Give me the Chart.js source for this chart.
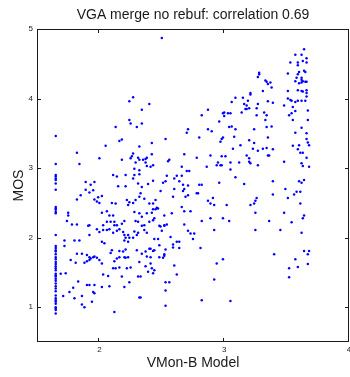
<!DOCTYPE html>
<html>
<head>
<meta charset="utf-8">
<script src="https://cdn.jsdelivr.net/npm/chart.js@4.4.1/dist/chart.umd.min.js"></script>
<style>
  html, body { margin: 0; padding: 0; background: #fff; }
  #c { display: block; }
</style>
</head>
<body>
<canvas id="c" width="350" height="377"></canvas>
<script>
/* ---------------------------------------------
   Data: VMon-B model score (x) vs MOS (y)
--------------------------------------------- */
const TITLE   = 'VGA merge no rebuf: correlation 0.69';
const X_LABEL = 'VMon-B Model';
const Y_LABEL = 'MOS';

const xTicks = [2, 3, 4];
const yTicks = [1, 2, 3, 4, 5];

// points with MOS >= 3
const upperPts = [
  [2.50,4.87],[3.64,4.71],[3.57,4.63],[3.62,4.63],[3.53,4.52],[3.59,4.52],[3.63,4.54],[3.66,4.58],[3.66,4.52],[3.59,4.48],
  [3.64,4.40],[3.65,4.38],[3.60,4.38],[3.51,4.36],[3.59,4.35],[3.28,4.37],[3.28,4.35],[3.27,4.31],[3.58,4.30],[3.62,4.30],
  [3.62,4.27],[3.63,4.25],[3.65,4.24],[3.66,4.24],[3.62,4.23],[3.57,4.25],[3.60,4.22],[3.33,4.26],[3.34,4.24],[3.35,4.21],
  [3.37,4.23],[3.38,4.16],[3.31,4.11],[3.51,4.11],[3.59,4.12],[3.62,4.11],[3.63,4.10],[3.66,4.12],[3.66,4.08],[3.21,4.08],
  [3.21,4.06],[3.09,4.01],[3.15,4.01],[3.51,4.00],[3.53,3.98],[3.54,3.97],[3.57,3.95],[3.59,3.97],[3.62,3.97],[3.65,3.97],
  [3.66,4.03],[3.19,3.97],[3.06,3.95],[3.35,3.96],[3.39,3.94],[3.16,3.92],[3.18,3.90],[3.17,3.85],[3.18,3.85],[3.20,3.86],
  [3.27,3.92],[3.26,3.86],[3.48,3.90],[3.55,3.88],[3.57,3.82],[3.54,3.79],[3.67,3.83],[2.87,3.84],[3.00,3.80],[3.03,3.79],
  [3.05,3.79],[2.99,3.79],[3.14,3.80],[3.32,3.80],[2.82,3.76],[3.00,3.75],[3.26,3.76],[3.34,3.76],[3.52,3.76],[3.55,3.69],
  [3.67,3.69],[3.33,3.69],[2.96,3.67],[3.04,3.59],[3.06,3.60],[3.34,3.59],[3.38,3.60],[3.62,3.58],[2.71,3.56],[2.70,3.51],
  [2.87,3.56],[2.90,3.53],[3.09,3.56],[3.24,3.56],[3.57,3.51],[3.66,3.50],[2.80,3.44],[2.53,3.42],[2.99,3.44],[2.98,3.42],
  [2.97,3.38],[3.08,3.45],[3.20,3.40],[3.24,3.36],[3.35,3.44],[3.66,3.42],[3.67,3.37],[3.68,3.33],[2.68,3.20],[2.78,3.15],
  [2.89,3.18],[2.98,3.17],[3.01,3.17],[3.07,3.28],[3.13,3.33],[3.18,3.18],[3.20,3.14],[3.23,3.28],[3.27,3.25],[3.31,3.28],
  [3.34,3.29],[3.39,3.27],[3.35,3.18],[3.36,3.18],[3.55,3.32],[3.59,3.27],[3.60,3.33],[3.63,3.22],[3.61,3.22],[3.66,3.15],
  [2.56,3.12],[2.55,3.10],[2.66,3.02],[2.43,3.04],[2.41,3.02],[2.86,3.02],[2.95,3.08],[2.97,3.04],[2.94,3.04],[2.98,3.04],
  [3.05,3.08],[3.12,3.08],[3.20,3.09],[3.21,3.07],[3.27,3.04],[3.48,3.09],[3.62,3.07],[3.63,3.03],[3.68,3.02],
  [2.27,4.02],[2.24,3.96],[2.40,3.92],[2.34,3.84],[2.24,3.69],[2.25,3.64],[2.34,3.64],[2.13,3.59],[2.30,3.59],[1.65,3.46],
  [2.18,3.41],[2.16,3.39],[2.42,3.36],[2.05,3.32],[2.32,3.31],[1.82,3.22],[2.00,3.14],[2.18,3.12],[2.27,3.21],[2.26,3.17],
  [2.25,3.14],[2.31,3.15],[2.32,3.12],[2.35,3.12],[2.37,3.13],[2.38,3.15],[2.42,3.20],[2.29,3.08],[2.37,3.08],[2.38,3.03],
  [1.65,3.06],[1.84,3.06],[2.28,2.99]
];

// points with MOS < 3, model score above ~2.4
const rightPts = [
  [2.70,2.96],[2.72,2.96],[3.05,2.98],[2.54,2.89],[2.62,2.89],[2.66,2.89],[2.60,2.85],[3.09,2.87],[2.51,2.79],[2.53,2.81],
  [2.64,2.81],[3.39,2.81],[3.60,2.81],[3.62,2.79],[3.64,2.83],[2.96,2.79],[3.16,2.77],[2.67,2.76],[2.71,2.75],[2.80,2.76],
  [2.82,2.76],[2.60,2.70],[2.68,2.70],[2.67,2.67],[2.49,2.67],[3.49,2.70],[3.58,2.66],[3.61,2.66],[3.56,2.62],[2.78,2.64],
  [2.79,2.64],[3.39,2.62],[2.71,2.61],[2.59,2.59],[2.69,2.59],[2.91,2.57],[3.26,2.57],[3.51,2.57],[2.45,2.54],[2.87,2.53],
  [3.25,2.53],[2.43,2.49],[2.46,2.43],[2.43,2.41],[2.45,2.41],[2.47,2.42],[2.89,2.49],[2.92,2.47],[3.02,2.47],[3.21,2.47],
  [3.24,2.49],[2.66,2.44],[3.61,2.49],[2.68,2.38],[2.73,2.38],[3.25,2.36],[3.48,2.36],[2.58,2.35],[2.52,2.32],[3.64,2.32],
  [3.63,2.28],[2.44,2.28],[2.89,2.28],[2.99,2.28],[2.82,2.24],[3.04,2.24],[3.36,2.24],[3.54,2.22],[2.68,2.19],[2.54,2.19],
  [2.52,2.18],[2.48,2.17],[2.49,2.16],[2.52,2.17],[2.50,2.10],[2.71,2.10],[2.73,2.06],[2.76,2.06],[2.75,1.98],[2.92,2.11],
  [3.25,2.11],[3.45,2.11],[3.62,2.07],[2.57,2.01],[2.44,1.98],[2.47,1.98],[2.62,1.94],[2.64,1.94],[2.59,1.90],[2.59,1.86],
  [2.64,1.85],[2.48,1.89],[2.53,1.83],[2.41,1.84],[2.44,1.82],[2.43,1.81],[2.81,1.85],[3.64,1.81],[3.68,1.81],[3.67,1.76],
  [2.52,1.76],[2.52,1.74],[3.40,1.76],[2.48,1.72],[2.51,1.71],[2.41,1.72],[2.99,1.69],[3.57,1.69],[2.94,1.63],[3.67,1.62],
  [2.60,1.60],[2.41,1.63],[3.59,1.58],[3.52,1.56],[2.44,1.53],[2.43,1.49],[2.62,1.47],[3.52,1.43],[2.92,1.40],[2.53,1.36],
  [2.56,1.36],[2.53,1.24],[2.82,1.10],[3.05,1.09],[2.53,1.02]
];

// points with MOS < 3, model score below ~2.4 (besides the stack)
const leftPts = [
  [2.11,2.90],[2.14,2.88],[2.21,2.90],[2.32,2.97],[2.28,2.90],[2.32,2.91],[1.96,2.80],[1.89,2.80],[1.93,2.76],[2.15,2.74],
  [2.21,2.74],[2.27,2.85],[2.31,2.78],[2.34,2.73],[2.43,2.82],[2.39,2.77],[1.85,2.61],[1.92,2.65],[1.95,2.68],[1.89,2.69],
  [1.82,2.55],[1.96,2.55],[1.99,2.58],[1.98,2.52],[2.00,2.50],[2.02,2.60],[2.10,2.50],[2.13,2.49],[2.22,2.54],[2.24,2.51],
  [2.23,2.47],[2.27,2.50],[2.29,2.54],[2.32,2.59],[2.33,2.64],[2.36,2.56],[2.40,2.49],[1.75,2.36],[1.75,2.32],[2.02,2.36],
  [2.06,2.38],[2.08,2.32],[2.11,2.32],[2.28,2.37],[2.32,2.35],[2.34,2.30],[2.38,2.35],[2.42,2.36],[1.74,2.24],[1.78,2.19],
  [1.82,2.19],[1.92,2.18],[1.91,2.17],[2.03,2.18],[2.06,2.23],[2.09,2.23],[2.12,2.23],[2.12,2.18],[2.18,2.20],[2.20,2.24],
  [2.29,2.24],[2.31,2.23],[2.34,2.17],[2.36,2.18],[2.40,2.23],[2.43,2.25],[1.98,2.12],[2.00,2.08],[2.03,2.11],[2.06,2.11],
  [2.08,2.12],[2.11,2.07],[2.14,2.10],[2.16,2.12],[2.14,2.18],[2.19,2.08],[2.20,2.04],[2.21,2.00],[2.23,2.04],[2.24,2.00],
  [2.27,2.00],[2.30,2.04],[2.28,2.09],[2.31,2.07],[2.36,2.11],[2.38,2.07],[1.72,1.96],[1.72,1.88],[1.80,1.96],[1.84,1.96],
  [1.92,2.04],[2.02,1.94],[2.04,1.92],[2.20,1.96],[2.23,1.94],[2.10,1.82],[2.09,1.78],[2.16,1.81],[2.19,1.80],[2.21,1.83],
  [2.20,1.72],[2.21,1.71],[2.23,1.72],[2.30,1.82],[2.34,1.77],[2.37,1.80],[2.40,1.84],[2.38,1.73],[1.82,1.77],[1.86,1.77],
  [1.90,1.75],[1.92,1.72],[1.93,1.70],[1.95,1.72],[1.96,1.73],[1.98,1.71],[1.77,1.68],[1.81,1.64],[1.88,1.64],[1.90,1.66],
  [1.92,1.68],[2.00,1.68],[2.02,1.63],[2.12,1.66],[2.14,1.70],[2.16,1.72],[2.11,1.56],[2.13,1.56],[2.16,1.57],[2.22,1.56],
  [2.18,1.44],[2.25,1.57],[2.32,1.65],[2.37,1.59],[2.39,1.51],[2.42,1.56],[1.69,1.48],[1.73,1.49],[2.03,1.47],[2.07,1.45],
  [2.31,1.44],[2.33,1.44],[1.83,1.37],[1.90,1.32],[1.92,1.32],[1.96,1.32],[2.02,1.29],[2.08,1.30],[2.20,1.29],[2.24,1.36],
  [1.79,1.28],[1.76,1.22],[1.95,1.22],[1.96,1.20],[1.71,1.16],[1.80,1.13],[1.86,1.16],[1.94,1.08],[1.86,1.04],[1.88,1.00],
  [2.32,1.14],[2.33,1.14],[2.12,0.93]
];

// vertical stack of clips that all got the lowest model score
const stackScore = 1.65;
const stackMos = [
  2.90, 2.88, 2.85, 2.83, 2.78, 2.69, 2.44, 2.42, 2.40, 2.37, 2.35, 2.04, 1.88, 1.85, 1.82, 1.80,
  1.76, 1.72, 1.69, 1.65, 1.62, 1.59, 1.56, 1.53, 1.48, 1.46, 1.44, 1.41, 1.38, 1.34, 1.30, 1.27,
  1.23, 1.17, 1.13, 1.10, 1.08, 1.05, 1.00, 0.98, 0.96, 0.91
];

/* ---------------------------------------------
   Build chart
--------------------------------------------- */
const FONT = "'Liberation Sans', Arial, Helvetica, sans-serif";
const INK  = '#1a1a1a';

const points = upperPts.concat(rightPts, leftPts)
  .map(p => ({ x: p[0], y: p[1] }))
  .concat(stackMos.map(v => ({ x: stackScore, y: v })));

// MATLAB-style box with inward ticks, x tick labels and the title
const framePlugin = {
  id: 'frame',
  afterDraw(chart) {
    const { ctx, chartArea: a, scales } = chart;
    const tl = 4;
    ctx.save();
    ctx.strokeStyle = INK;
    ctx.lineWidth = 1;
    ctx.strokeRect(Math.round(a.left) + 0.5, Math.round(a.top) + 0.5,
                   Math.round(a.right - a.left) - 1, Math.round(a.bottom - a.top) - 1);
    ctx.beginPath();
    xTicks.forEach(v => {
      const px = Math.round(scales.x.getPixelForValue(v)) - 0.5;
      ctx.moveTo(px, a.bottom); ctx.lineTo(px, a.bottom - tl);
      ctx.moveTo(px, a.top);    ctx.lineTo(px, a.top + tl);
    });
    yTicks.forEach(v => {
      const py = Math.round(scales.y.getPixelForValue(v)) + 0.5;
      ctx.moveTo(a.left, py);  ctx.lineTo(a.left + tl, py);
      ctx.moveTo(a.right, py); ctx.lineTo(a.right - tl, py);
    });
    ctx.stroke();

    ctx.fillStyle = INK;
    ctx.font = '8px ' + FONT;
    ctx.textAlign = 'center';
    ctx.textBaseline = 'top';
    xTicks.forEach(v => {
      ctx.fillText(String(v), scales.x.getPixelForValue(v), a.bottom + 4);
    });

    ctx.font = '14px ' + FONT;
    ctx.textBaseline = 'alphabetic';
    ctx.fillText(TITLE, (a.left + a.right) / 2, 19);
    ctx.restore();
  }
};

new Chart(document.getElementById('c'), {
  type: 'scatter',
  data: {
    datasets: [{
      data: points,
      pointRadius: 1.25,
      pointHoverRadius: 1.25,
      pointBorderWidth: 0,
      pointBackgroundColor: '#0000ff',
      pointBorderColor: '#0000ff'
    }]
  },
  options: {
    responsive: false,
    animation: false,
    devicePixelRatio: 1,
    events: [],
    layout: { autoPadding: false, padding: { top: 29, right: 1, left: 0, bottom: 0 } },
    plugins: {
      legend: { display: false },
      tooltip: { enabled: false }
    },
    scales: {
      x: {
        type: 'linear',
        min: 1.5, max: 4,
        afterBuildTicks: s => { s.ticks = xTicks.map(v => ({ value: v })); },
        afterFit: s => { s.height = 35; },
        grid: { display: false, drawTicks: false },
        border: { display: false },
        ticks: { display: false },
        title: { display: true, text: X_LABEL, color: INK, font: { size: 14, family: FONT }, padding: { top: 0, bottom: 5 } }
      },
      y: {
        type: 'linear',
        min: 0.5, max: 5,
        afterBuildTicks: s => { s.ticks = yTicks.map(v => ({ value: v })); },
        afterFit: s => { s.width = 37; s.paddingTop = 0; s.paddingBottom = 0; },
        grid: { display: false, drawTicks: false },
        border: { display: false },
        ticks: { padding: 4, autoSkip: false, color: INK, font: { size: 8, family: FONT } },
        title: { display: true, text: Y_LABEL, color: INK, font: { size: 14, family: FONT }, padding: { top: 11, bottom: 0 } }
      }
    }
  },
  plugins: [framePlugin]
});
</script>
</body>
</html>
